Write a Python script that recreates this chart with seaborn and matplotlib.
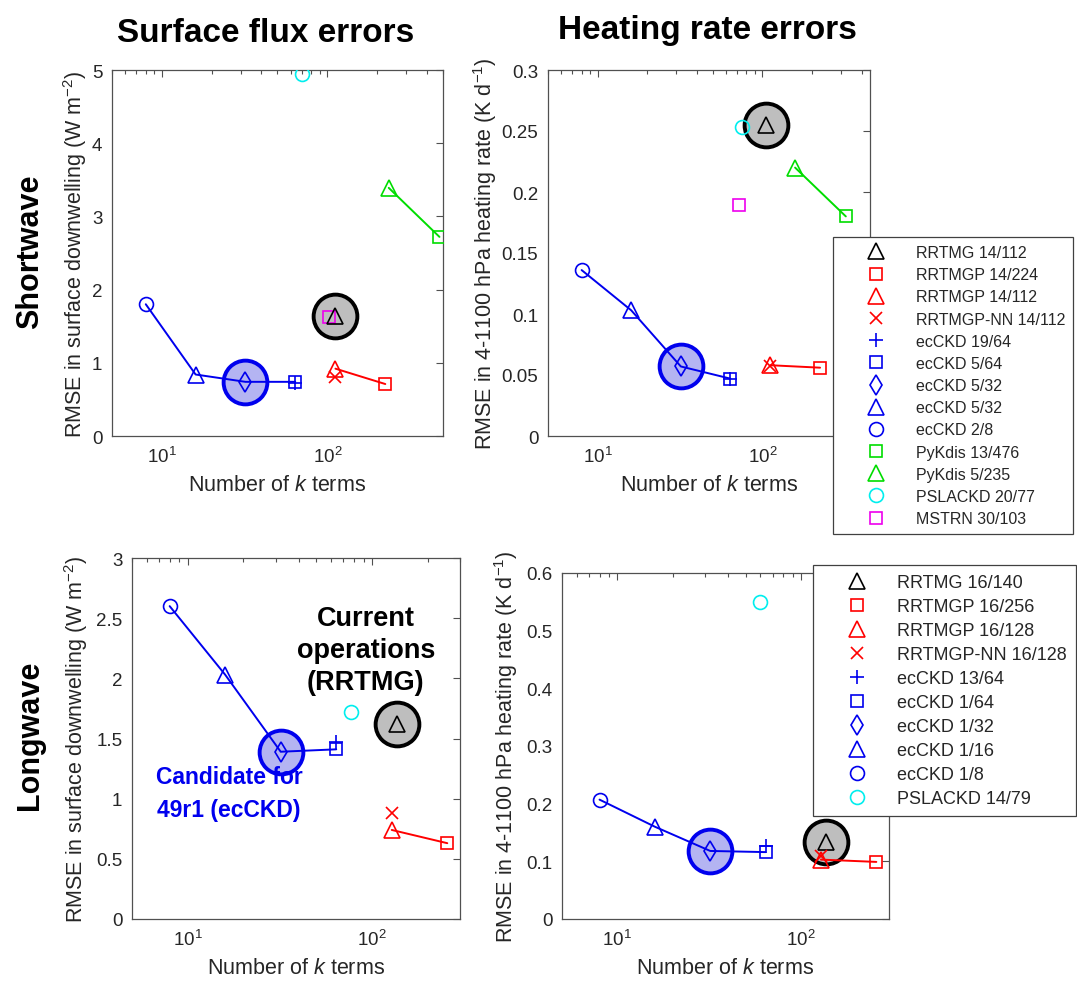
import numpy as np
import pandas as pd
import matplotlib
matplotlib.use("Agg")
import matplotlib.pyplot as plt
import seaborn as sns
from matplotlib.ticker import FuncFormatter, MultipleLocator, LogLocator, NullFormatter

# ---------------- data ----------------
ecckd_k = [8, 16, 32, 64]
sw_flux_ecckd = [1.80, 0.84, 0.74, 0.74]
sw_hr_ecckd = [0.136, 0.103, 0.057, 0.047]
lw_flux_ecckd = [2.60, 2.03, 1.39, 1.41]
lw_hr_ecckd = [0.207, 0.160, 0.118, 0.116]

ecckd_plus_k = [64]
sw_flux_ecckd_plus = [0.73]
sw_hr_ecckd_plus = [0.047]
lw_flux_ecckd_plus = [1.47]
lw_hr_ecckd_plus = [0.126]

sw_rrtmgp_k = [112, 224]
lw_rrtmgp_k = [128, 256]
sw_flux_rrtmgp = [0.92, 0.71]
sw_hr_rrtmgp = [0.058, 0.056]
lw_flux_rrtmgp = [0.74, 0.63]
lw_hr_rrtmgp = [0.103, 0.099]

sw_nn_k = [112]
lw_nn_k = [128]
sw_flux_nn = [0.80]
sw_hr_nn = [0.057]
lw_flux_nn = [0.88]
lw_hr_nn = [0.110]

sw_flux_rrtmg_k = [112]
sw_hr_rrtmg_k = [105]
lw_rrtmg_k = [137]
sw_flux_rrtmg = [1.64]
sw_hr_rrtmg = [0.255]
lw_flux_rrtmg = [1.62]
lw_hr_rrtmg = [0.134]

sw_flux_pykdis_k = [235, 476]
sw_hr_pykdis_k = [158, 321]
sw_flux_pykdis = [3.39, 2.72]
sw_hr_pykdis = [0.220, 0.180]

sw_flux_pslackd_k = [70]
sw_hr_pslackd_k = [75]
lw_flux_pslackd_k = [77]
lw_hr_pslackd_k = [60]
sw_flux_pslackd = [4.95]
sw_hr_pslackd = [0.253]
lw_flux_pslackd = [1.72]
lw_hr_pslackd = [0.55]

sw_flux_mstrn_k = [103]
sw_hr_mstrn_k = [72]
sw_flux_mstrn = [1.62]
sw_hr_mstrn = [0.189]

sw_legend_labels = ["RRTMG 14/112", "RRTMGP 14/224", "RRTMGP 14/112", "RRTMGP-NN 14/112",
                    "ecCKD 19/64", "ecCKD 5/64", "ecCKD 5/32", "ecCKD 5/32", "ecCKD 2/8",
                    "PyKdis 13/476", "PyKdis 5/235", "PSLACKD 20/77", "MSTRN 30/103"]
lw_legend_labels = ["RRTMG 16/140", "RRTMGP 16/256", "RRTMGP 16/128", "RRTMGP-NN 16/128",
                    "ecCKD 13/64", "ecCKD 1/64", "ecCKD 1/32", "ecCKD 1/16", "ecCKD 1/8",
                    "PSLACKD 14/79"]

col_titles = ["Surface flux errors", "Heating rate errors"]
row_titles = ["Shortwave", "Longwave"]
xlabel = "Number of $\\mathit{k}$ terms"
ylabel_flux = "RMSE in surface downwelling (W m$^{-2}$)"
ylabel_hr = "RMSE in 4-1100 hPa heating rate (K d$^{-1}$)"

# ---------------- style ----------------
sns.set_theme(style="white")
plt.rcParams['font.family'] = ['Liberation Sans', 'DejaVu Sans']
plt.rcParams['mathtext.fontset'] = 'custom'
plt.rcParams['mathtext.rm'] = 'Liberation Sans'
plt.rcParams['mathtext.it'] = 'Liberation Sans:italic'
plt.rcParams['mathtext.bf'] = 'Liberation Sans:bold'

TXT = '#262626'
AXC = '#505050'
BLUE = '#0000ee'
RED = '#ff0000'
GREEN = '#00dd00'
CYAN = '#00eeee'
MAG = '#ee00ee'
BLK = '#000000'

W, H = 1077, 995
fig = plt.figure(figsize=(W / 100, H / 100), dpi=100)


def axes_px(x0, y0, x1, y1):
    return fig.add_axes([x0 / W, 1 - y1 / H, (x1 - x0) / W, (y1 - y0) / H])


ax_sf = axes_px(112, 71, 443, 437)
ax_sh = axes_px(548, 71, 870, 437)
ax_lf = axes_px(132, 559, 460, 920)
ax_lh = axes_px(562, 574, 889, 920)

mk = dict(ls='none', mfc='none')
sizes = {'^': 12, 's': 8.5, 'x': 9, '+': 10, 'd': 10.5, 'o': 10}


def mark(ax, x, y, m, c, label=None, z=4):
    h, = ax.plot(x, y, marker=m, color=c, mec=c, ms=sizes[m], mew=1.2, label=label, zorder=z, **mk)
    return h


def line(ax, x, y, c):
    sns.lineplot(x=x, y=y, ax=ax, color=c, lw=1.4, sort=False, legend=False, zorder=3,
                 estimator=None)


def big(ax, x, y, face, edge):
    ax.plot(x, y, marker='o', ls='none', ms=31.5, mfc=face, mec=edge, mew=2.8, zorder=2)


def style(ax, xlim, ylim, ystep, ylab, ylpad):
    ax.set_xscale('log')
    ax.set_xlim(*xlim)
    ax.set_ylim(*ylim)
    ax.yaxis.set_major_locator(MultipleLocator(ystep))
    ax.yaxis.set_major_formatter(FuncFormatter(lambda v, p: f"{v:g}"))
    ax.xaxis.set_major_locator(LogLocator(base=10, numticks=10))
    ax.xaxis.set_minor_locator(LogLocator(base=10, subs=np.arange(2, 10), numticks=20))
    ax.xaxis.set_minor_formatter(NullFormatter())
    ax.tick_params(which='both', direction='in', top=True, right=True, colors=AXC,
                   labelcolor=TXT, labelsize=13.5, width=0.8)
    ax.tick_params(which='major', length=5, pad=7)
    ax.tick_params(which='minor', length=3)
    for s in ax.spines.values():
        s.set_color(AXC)
        s.set_linewidth(0.9)
    ax.set_xlabel(xlabel, fontsize=15.5, color=TXT, labelpad=6)
    ax.set_ylabel(ylab, fontsize=15.5, color=TXT, labelpad=ylpad)
    ax.grid(False)


for ax in (ax_sf, ax_sh, ax_lf, ax_lh):
    ax.set_xscale('log')

# ---- SW flux ----
ax = ax_sf
big(ax, [ecckd_k[2]], [sw_flux_ecckd[2]], '#b4b4f2', BLUE)
big(ax, sw_flux_rrtmg_k, sw_flux_rrtmg, '#bebebe', BLK)
line(ax, ecckd_k, sw_flux_ecckd, BLUE)
line(ax, sw_rrtmgp_k, sw_flux_rrtmgp, RED)
line(ax, sw_flux_pykdis_k, sw_flux_pykdis, GREEN)
mark(ax, [ecckd_k[0]], [sw_flux_ecckd[0]], 'o', BLUE)
mark(ax, [ecckd_k[1]], [sw_flux_ecckd[1]], '^', BLUE)
mark(ax, [ecckd_k[2]], [sw_flux_ecckd[2]], 'd', BLUE)
mark(ax, [ecckd_k[3]], [sw_flux_ecckd[3]], 's', BLUE)
mark(ax, ecckd_plus_k, sw_flux_ecckd_plus, '+', BLUE)
mark(ax, [sw_rrtmgp_k[0]], [sw_flux_rrtmgp[0]], '^', RED)
mark(ax, [sw_rrtmgp_k[1]], [sw_flux_rrtmgp[1]], 's', RED)
mark(ax, sw_nn_k, sw_flux_nn, 'x', RED)
mark(ax, sw_flux_mstrn_k, sw_flux_mstrn, 's', MAG)
mark(ax, sw_flux_rrtmg_k, sw_flux_rrtmg, '^', BLK, z=5)
mark(ax, [sw_flux_pykdis_k[0]], [sw_flux_pykdis[0]], '^', GREEN)
mark(ax, [sw_flux_pykdis_k[1]], [sw_flux_pykdis[1]], 's', GREEN)
mark(ax, sw_flux_pslackd_k, sw_flux_pslackd, 'o', CYAN)
style(ax, (5, 500), (0, 5), 1, ylabel_flux, 2)

# ---- SW heating rate ----
ax = ax_sh
big(ax, [ecckd_k[2]], [sw_hr_ecckd[2]], '#b4b4f2', BLUE)
big(ax, sw_hr_rrtmg_k, sw_hr_rrtmg, '#bebebe', BLK)
line(ax, ecckd_k, sw_hr_ecckd, BLUE)
line(ax, sw_rrtmgp_k, sw_hr_rrtmgp, RED)
line(ax, sw_hr_pykdis_k, sw_hr_pykdis, GREEN)
hs = {}
hs[0] = mark(ax, sw_hr_rrtmg_k, sw_hr_rrtmg, '^', BLK, z=5)
hs[1] = mark(ax, [sw_rrtmgp_k[1]], [sw_hr_rrtmgp[1]], 's', RED)
hs[2] = mark(ax, [sw_rrtmgp_k[0]], [sw_hr_rrtmgp[0]], '^', RED)
hs[3] = mark(ax, sw_nn_k, sw_hr_nn, 'x', RED)
hs[4] = mark(ax, ecckd_plus_k, sw_hr_ecckd_plus, '+', BLUE)
hs[5] = mark(ax, [ecckd_k[3]], [sw_hr_ecckd[3]], 's', BLUE)
hs[6] = mark(ax, [ecckd_k[2]], [sw_hr_ecckd[2]], 'd', BLUE)
hs[7] = mark(ax, [ecckd_k[1]], [sw_hr_ecckd[1]], '^', BLUE)
hs[8] = mark(ax, [ecckd_k[0]], [sw_hr_ecckd[0]], 'o', BLUE)
hs[9] = mark(ax, [sw_hr_pykdis_k[1]], [sw_hr_pykdis[1]], 's', GREEN)
hs[10] = mark(ax, [sw_hr_pykdis_k[0]], [sw_hr_pykdis[0]], '^', GREEN)
hs[11] = mark(ax, sw_hr_pslackd_k, sw_hr_pslackd, 'o', CYAN)
hs[12] = mark(ax, sw_hr_mstrn_k, sw_hr_mstrn, 's', MAG)
style(ax, (5, 450), (0, 0.3), 0.05, ylabel_hr, 2)
leg = fig.legend([hs[i] for i in range(13)], sw_legend_labels, loc='upper left',
                 bbox_to_anchor=(833 / W, 1 - 238 / H), fontsize=11.5, frameon=True,
                 fancybox=False, edgecolor='#404040', framealpha=1, numpoints=1,
                 handlelength=4.4, handletextpad=0.3, labelspacing=0.45, borderpad=0.5,
                 borderaxespad=0)
leg.get_frame().set_linewidth(0.9)
for t in leg.get_texts():
    t.set_color(TXT)

# ---- LW flux ----
ax = ax_lf
big(ax, [ecckd_k[2]], [lw_flux_ecckd[2]], '#b4b4f2', BLUE)
big(ax, lw_rrtmg_k, lw_flux_rrtmg, '#bebebe', BLK)
line(ax, ecckd_k, lw_flux_ecckd, BLUE)
line(ax, lw_rrtmgp_k, lw_flux_rrtmgp, RED)
mark(ax, [ecckd_k[0]], [lw_flux_ecckd[0]], 'o', BLUE)
mark(ax, [ecckd_k[1]], [lw_flux_ecckd[1]], '^', BLUE)
mark(ax, [ecckd_k[2]], [lw_flux_ecckd[2]], 'd', BLUE)
mark(ax, [ecckd_k[3]], [lw_flux_ecckd[3]], 's', BLUE)
mark(ax, ecckd_plus_k, lw_flux_ecckd_plus, '+', BLUE)
mark(ax, [lw_rrtmgp_k[0]], [lw_flux_rrtmgp[0]], '^', RED)
mark(ax, [lw_rrtmgp_k[1]], [lw_flux_rrtmgp[1]], 's', RED)
mark(ax, lw_nn_k, lw_flux_nn, 'x', RED)
mark(ax, lw_rrtmg_k, lw_flux_rrtmg, '^', BLK, z=5)
mark(ax, lw_flux_pslackd_k, lw_flux_pslackd, 'o', CYAN)
style(ax, (5, 300), (0, 3), 0.5, ylabel_flux, 4)
ax.text(0.713, 0.745, "Current\noperations\n(RRTMG)", transform=ax.transAxes, ha='center',
        va='center', fontsize=19.5, fontweight='bold', color='black', linespacing=1.32)
ax.text(0.296, 0.350, "Candidate for\n49r1 (ecCKD)", transform=ax.transAxes, ha='center',
        va='center', fontsize=16.5, fontweight='bold', color=BLUE, linespacing=1.55)

# ---- LW heating rate ----
ax = ax_lh
big(ax, [ecckd_k[2]], [lw_hr_ecckd[2]], '#b4b4f2', BLUE)
big(ax, lw_rrtmg_k, lw_hr_rrtmg, '#bebebe', BLK)
line(ax, ecckd_k, lw_hr_ecckd, BLUE)
line(ax, lw_rrtmgp_k, lw_hr_rrtmgp, RED)
hl = {}
hl[0] = mark(ax, lw_rrtmg_k, lw_hr_rrtmg, '^', BLK, z=5)
hl[1] = mark(ax, [lw_rrtmgp_k[1]], [lw_hr_rrtmgp[1]], 's', RED)
hl[2] = mark(ax, [lw_rrtmgp_k[0]], [lw_hr_rrtmgp[0]], '^', RED)
hl[3] = mark(ax, lw_nn_k, lw_hr_nn, 'x', RED, z=6)
hl[4] = mark(ax, ecckd_plus_k, lw_hr_ecckd_plus, '+', BLUE)
hl[5] = mark(ax, [ecckd_k[3]], [lw_hr_ecckd[3]], 's', BLUE)
hl[6] = mark(ax, [ecckd_k[2]], [lw_hr_ecckd[2]], 'd', BLUE)
hl[7] = mark(ax, [ecckd_k[1]], [lw_hr_ecckd[1]], '^', BLUE)
hl[8] = mark(ax, [ecckd_k[0]], [lw_hr_ecckd[0]], 'o', BLUE)
hl[9] = mark(ax, lw_hr_pslackd_k, lw_hr_pslackd, 'o', CYAN)
style(ax, (5, 300), (0, 0.6), 0.1, ylabel_hr, 4)
leg2 = fig.legend([hl[i] for i in range(10)], lw_legend_labels, loc='upper left',
                  bbox_to_anchor=(813 / W, 1 - 566 / H), fontsize=13, frameon=True,
                  fancybox=False, edgecolor='#404040', framealpha=1, numpoints=1,
                  handlelength=3.9, handletextpad=0.25, labelspacing=0.39, borderpad=0.5,
                  borderaxespad=0)
leg2.get_frame().set_linewidth(0.9)
for t in leg2.get_texts():
    t.set_color(TXT)

# ---- headings ----
fig.text(266 / W, 1 - 33 / H, col_titles[0], ha='center', va='center', fontsize=24,
         fontweight='bold', color='black')
fig.text(707 / W, 1 - 31 / H, col_titles[1], ha='center', va='center', fontsize=24,
         fontweight='bold', color='black')
fig.text(30 / W, 1 - 252 / H, row_titles[0], ha='center', va='center', fontsize=22,
         fontweight='bold', rotation=90, color='black')
fig.text(30 / W, 1 - 735 / H, row_titles[1], ha='center', va='center', fontsize=22,
         fontweight='bold', rotation=90, color='black')

fig.savefig("out.png", dpi=100)
